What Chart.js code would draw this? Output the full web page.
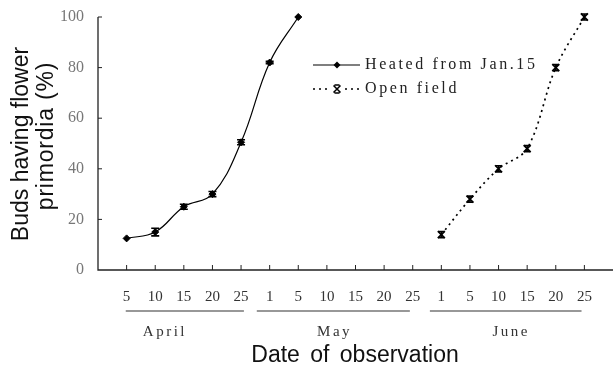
<!DOCTYPE html>
<html><head><meta charset="utf-8">
<script src="https://cdn.jsdelivr.net/npm/chart.js@4/dist/chart.umd.min.js"></script>
<style>html,body{margin:0;padding:0;background:#fff}#wrap{width:613px;height:372px}</style>
</head><body><div id="wrap"><canvas id="c" width="613" height="372"></canvas></div>
<script>
const categories = ['5','10','15','20','25','1','5','10','15','20','25','1','5','10','15','20','25'];
const months = ['April','May','June'];
const heated    = [12.5, 15, 25, 30, 50.5, 82, 100, null, null, null, null, null, null, null, null, null, null];
const heatedErr = [0, 1.5, 1, 1, 1, 0.5, 0, 0, 0, 0, 0, 0, 0, 0, 0, 0, 0];
const openField = [null, null, null, null, null, null, null, null, null, null, null, 14, 28, 40, 48, 80, 100];
const openErr   = [0, 0, 0, 0, 0, 0, 0, 0, 0, 0, 0, 1.2, 1.2, 1.2, 1.2, 1.2, 1.2];
const yTicks = [0, 20, 40, 60, 80, 100];
const seriesNames = ['Heated from Jan.15', 'Open field'];

const toPts = arr => arr.map((v, i) => v === null ? null : ({x: i + 1, y: v})).filter(p => p);

const layoutCfg = {
  monthSpans: [[0.97, 5.1], [5.55, 10.9], [11.6, 16.9]],
  monthCenters: [2.34, 8.27, 14.44],
  spanY: 311, monthY: 332, titleY: 356
};

const deco = {
  id: 'deco',
  beforeDatasetsDraw(chart) {
    const {ctx, chartArea: a, scales: {x, y}} = chart;
    ctx.save();
    ctx.strokeStyle = '#222'; ctx.lineWidth = 1.3;
    ctx.beginPath();
    ctx.moveTo(a.left, a.top); ctx.lineTo(a.left, a.bottom); ctx.lineTo(chart.width, a.bottom);
    ctx.stroke();
    ctx.lineWidth = 1;
    ctx.beginPath();
    yTicks.forEach(t => { if (t > 0) { const py = y.getPixelForValue(t); ctx.moveTo(a.left, py); ctx.lineTo(a.left + 4, py); } });
    categories.forEach((c, i) => { const px = x.getPixelForValue(i + 1); ctx.moveTo(px, a.bottom); ctx.lineTo(px, a.bottom - 5); });
    ctx.stroke();
    // month spans
    ctx.lineWidth = 1.1; ctx.strokeStyle = '#333';
    ctx.beginPath();
    layoutCfg.monthSpans.forEach(s => { ctx.moveTo(x.getPixelForValue(s[0]), layoutCfg.spanY); ctx.lineTo(x.getPixelForValue(s[1]), layoutCfg.spanY); });
    ctx.stroke();
    ctx.fillStyle = '#333';
    ctx.font = '15px "Liberation Serif"';
    ctx.letterSpacing = '2.5px';
    ctx.textAlign = 'center'; ctx.textBaseline = 'middle';
    months.forEach((m, i) => ctx.fillText(m, x.getPixelForValue(layoutCfg.monthCenters[i]), layoutCfg.monthY));
    ctx.letterSpacing = '0px';
    // titles
    ctx.fillStyle = '#111';
    ctx.font = '23px "Liberation Sans"';
    ctx.wordSpacing = '4px';
    ctx.fillText('Date of observation', 355, layoutCfg.titleY);
    ctx.wordSpacing = '0px';
    ctx.save();
    ctx.translate(22, 144); ctx.rotate(-Math.PI / 2);
    ctx.fillText('Buds having flower', 0, 0);
    ctx.restore();
    ctx.save();
    ctx.translate(47, 136); ctx.rotate(-Math.PI / 2);
    ctx.letterSpacing = '0.8px';
    ctx.fillText('primordia (%)', 0, 0);
    ctx.letterSpacing = '0px';
    ctx.restore();
    // legend
    ctx.strokeStyle = '#000'; ctx.lineWidth = 1.2;
    ctx.beginPath(); ctx.moveTo(313, 65); ctx.lineTo(360, 65); ctx.stroke();
    ctx.fillStyle = '#000';
    ctx.beginPath(); ctx.moveTo(337, 61.5); ctx.lineTo(340.5, 65); ctx.lineTo(337, 68.5); ctx.lineTo(333.5, 65); ctx.closePath(); ctx.fill();
    ctx.setLineDash([2, 4]); ctx.lineWidth = 1.6;
    ctx.beginPath(); ctx.moveTo(313, 89); ctx.lineTo(331, 89); ctx.moveTo(345, 89); ctx.lineTo(360, 89); ctx.stroke();
    ctx.setLineDash([]);
    ctx.lineWidth = 1.5;
    ctx.beginPath(); ctx.moveTo(333.5, 85.5); ctx.lineTo(340.5, 92.5); ctx.moveTo(340.5, 85.5); ctx.lineTo(333.5, 92.5);
    ctx.moveTo(334.5, 85); ctx.lineTo(339.5, 85); ctx.moveTo(334.5, 93); ctx.lineTo(339.5, 93); ctx.stroke();
    ctx.fillStyle = '#222';
    ctx.font = '16px "Liberation Serif"';
    ctx.letterSpacing = '2.6px';
    ctx.textAlign = 'left';
    ctx.fillText(seriesNames[0], 365, 65);
    ctx.fillText(seriesNames[1], 365, 89);
    ctx.restore();
  },
  afterDatasetsDraw(chart) {
    const {ctx, scales: {x, y}} = chart;
    ctx.save();
    ctx.strokeStyle = '#000'; ctx.lineWidth = 1.6;
    [[heated, heatedErr, 4], [openField, openErr, 3]].forEach(([vals, errs, cap]) => {
      vals.forEach((v, i) => {
        if (v === null || !errs[i]) return;
        const px = x.getPixelForValue(i + 1);
        const y1 = y.getPixelForValue(v + errs[i]), y2 = y.getPixelForValue(v - errs[i]);
        ctx.beginPath();
        ctx.moveTo(px, y1); ctx.lineTo(px, y2);
        ctx.moveTo(px - cap, y1); ctx.lineTo(px + cap, y1);
        ctx.moveTo(px - cap, y2); ctx.lineTo(px + cap, y2);
        ctx.stroke();
      });
    });
    ctx.restore();
  }
};

new Chart(document.getElementById('c'), {
  type: 'line',
  data: {
    datasets: [
      {label: seriesNames[0], data: toPts(heated), borderColor: '#000', borderWidth: 1.2, tension: 0.4, clip: false,
       pointStyle: 'rectRot', pointRadius: 3.5, pointBackgroundColor: '#000', pointBorderColor: '#000', pointBorderWidth: 1},
      {label: seriesNames[1], data: toPts(openField), borderColor: '#000', borderWidth: 1.7, borderDash: [2, 4], tension: 0.35, clip: false,
       pointStyle: 'crossRot', pointRadius: 5, pointBorderColor: '#000', pointBorderWidth: 1.7}
    ]
  },
  options: {
    responsive: false, animation: false, devicePixelRatio: 1,
    layout: {autoPadding: false, padding: {top: 17, right: 0, left: 0, bottom: 0}},
    plugins: {legend: {display: false}, tooltip: {enabled: false}},
    scales: {
      x: {
        type: 'linear', min: 0, max: 18,
        afterBuildTicks: s => { s.ticks = categories.map((c, i) => ({value: i + 1})); },
        afterFit: s => { s.height = 102; s.paddingLeft = 0; s.paddingRight = 0; },
        grid: {display: false, drawTicks: false}, border: {display: false},
        ticks: {callback: v => categories[v - 1], font: {family: 'Liberation Serif', size: 15}, color: '#333', padding: 18, maxRotation: 0, autoSkip: false}
      },
      y: {
        min: 0, max: 100,
        afterBuildTicks: s => { s.ticks = yTicks.map(v => ({value: v})); },
        afterFit: s => { s.width = 98; s.paddingTop = 0; s.paddingBottom = 0; },
        grid: {display: false, drawTicks: false}, border: {display: false},
        ticks: {font: {family: 'Liberation Serif', size: 16}, color: '#777', padding: 14}
      }
    }
  },
  plugins: [deco]
});
</script></body></html>
